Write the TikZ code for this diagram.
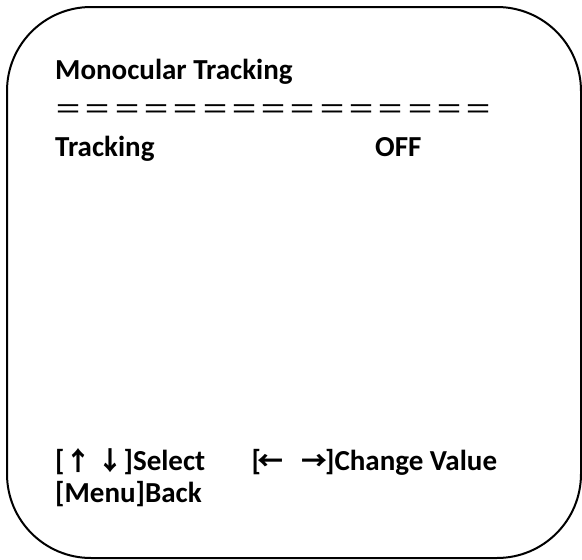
\documentclass[tikz,border=0pt]{standalone}
\usepackage{fontspec}
\setmainfont{Carlito}
\newfontfamily\cjk{Noto Sans CJK SC}
\usepackage{tikz}
\usetikzlibrary{positioning}

\newcommand{\vkey}[1]{\makebox[27pt]{\cjk\fontsize{26}{30}\selectfont #1}}
\newcommand{\hkey}[2]{\makebox[#1]{\cjk\fontsize{26}{30}\selectfont #2}}

\begin{document}
\begin{tikzpicture}[x=1pt, y=-1pt,
    menutext/.style={anchor=base west, inner sep=0pt, font=\bfseries\fontsize{29}{35}\selectfont},
    bar/.style={anchor=base, inner sep=0pt, font=\cjk\fontsize{28}{34}\selectfont}]
\useasboundingbox (0,0) rectangle (582,560);
\draw[line width=2pt, rounded corners=84pt] (7,7) rectangle (581,558);
% title and separator
\node (title) [menutext] at (55,79) {Monocular Tracking};
\foreach \n in {0,...,14} {
    \node (eq\n) [bar] at (57+29.3*\n+11.5,119) {＝};
}
% item
\node (track) [menutext] at (55,156) {Tracking};
\node (off) [menutext] at (375,156) {OFF};
% help lines
\node (select) [menutext] at (55,470) {[\vkey{↑}\hspace{5pt}\vkey{↓}]Select};
\node (change) [menutext] at (251.5,470) {[\hkey{19pt}{←}\hspace{24pt}\hkey{21pt}{→}]Change Value};
\node (back) [menutext] at (55,502) {[Menu]Back};
\end{tikzpicture}
\end{document}
